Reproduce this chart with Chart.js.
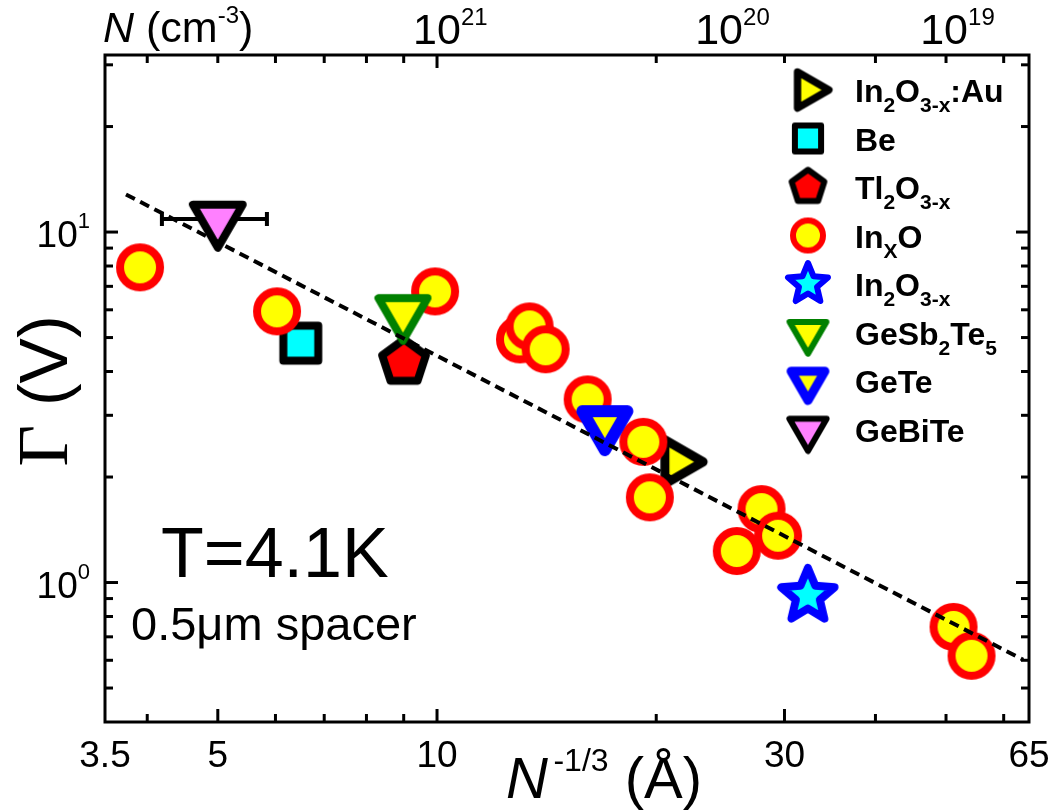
<!DOCTYPE html>
<html>
<head>
<meta charset="utf-8">
<script src="https://cdn.jsdelivr.net/npm/chart.js@4.4.1/dist/chart.umd.min.js"></script>
<style>
  html, body { margin: 0; padding: 0; background: #fff; }
  #wrap { width: 1051px; height: 812px; }
</style>
</head>
<body>
<div id="wrap"><canvas id="gammaChart" width="1051" height="812"></canvas></div>
<script>
// N^-1/3 (Å) against Γ (V) for every sample family
const inxoX = [3.91, 6.03, 9.94, 13.0, 13.4, 14.1, 16.1, 19.2, 19.6, 25.8, 27.9, 29.4, 51.2, 54.2];
const inxoY = [7.93, 5.94, 6.77, 4.94, 5.38, 4.63, 3.33, 2.52, 1.75, 1.23, 1.62, 1.36, 0.747, 0.618];
const auX = [21.4];
const auY = [2.21];
const beX = [6.50];
const beY = [4.82];
const tlX = [9.01];
const tlY = [4.25];
const in2o3X = [32.3];
const in2o3Y = [0.916];
const gstX = [8.98];
const gstY = [5.90];
const geteX = [17.0];
const geteY = [2.83];
const gebiteX = [5.0];
const gebiteY = [10.9];
const gebiteXLow = [4.19];
const gebiteXHigh = [5.84];

// dashed power-law guide
const fitX = [3.74, 63.8];
const fitY = [12.8, 0.602];

// axes
const xTickLabels = [3.5, 5, 10, 30, 65];
const xMajor = [5, 10, 30];
const xMinor = [4, 6, 7, 8, 9, 20, 40, 50, 60];
const topMajor = [10];
const yMajor = [1, 10];
const yMinor = [0.5, 0.6, 0.7, 0.8, 0.9, 2, 3, 4, 5, 6, 7, 8, 9, 20, 30];
const yExponents = [0, 1];
const topExponents = [21, 20, 19];
const topLabelAt = [10, 24.4, 49.7];

const SANS = '"Liberation Sans", Arial, sans-serif';
const SERIF = '"Liberation Serif", "Times New Roman", serif';

const pts = (xs, ys) => xs.map((x, i) => ({ x: x, y: ys[i] }));

// build a marker sprite on its own canvas
function marker(shape, R, fill, stroke, lw, k) {
  k = k || 1;
  R *= k; lw *= k;
  const size = Math.ceil(2 * R + 2 * lw + 4);
  const c = document.createElement('canvas');
  c.width = c.height = size;
  const g = c.getContext('2d');
  g.translate(size / 2, size / 2);
  g.beginPath();
  if (shape === 'circle') {
    g.arc(0, 0, R, 0, Math.PI * 2);
  } else {
    let n, a0, rad;
    if (shape === 'down') { n = 3; a0 = Math.PI / 2; }
    if (shape === 'right') { n = 3; a0 = 0; }
    if (shape === 'square') { n = 4; a0 = Math.PI / 4; }
    if (shape === 'pentagon') { n = 5; a0 = -Math.PI / 2; }
    if (shape === 'star') { n = 10; a0 = -Math.PI / 2; }
    for (let i = 0; i < n; i++) {
      rad = (shape === 'star' && i % 2) ? R * 0.45 : R;
      const a = a0 + i * Math.PI * 2 / n;
      const px = rad * Math.cos(a), py = rad * Math.sin(a);
      if (i === 0) g.moveTo(px, py); else g.lineTo(px, py);
    }
    g.closePath();
  }
  g.fillStyle = fill;
  g.fill();
  g.lineJoin = 'round';
  g.lineWidth = lw;
  g.strokeStyle = stroke;
  g.stroke();
  return c;
}

const styles = {
  au:     ['right', 25.5, '#ffff00', '#000000', 9],
  be:     ['square', 24.7, '#00ffff', '#000000', 8],
  tl:     ['pentagon', 23, '#ff0000', '#000000', 8],
  inxo:   ['circle', 20, '#ffff00', '#ff0000', 8],
  in2o3:  ['star', 28, '#00ffff', '#0000ff', 8],
  gst:    ['down', 28.3, '#ffff00', '#008000', 8],
  gete:   ['down', 26, '#ffff00', '#0000ff', 12],
  gebite: ['down', 28.7, '#ff80ff', '#000000', 8]
};
const big = {}, small = {};
Object.keys(styles).forEach(k => {
  const s = styles[k];
  big[k] = marker(s[0], s[1], s[2], s[3], s[4], 1);
  small[k] = marker(s[0], s[1], s[2], s[3], s[4], k === 'au' ? 0.82 : 0.75);
});

function series(key, xs, ys) {
  return { data: pts(xs, ys), pointStyle: big[key], pointRadius: 20, showLine: false };
}

// draw text made of several runs (sub/superscripts)
function rich(ctx, parts, x, y, align) {
  let w = 0;
  parts.forEach(p => { ctx.font = p[1]; w += ctx.measureText(p[0]).width; });
  let cx = align === 'center' ? x - w / 2 : (align === 'right' ? x - w : x);
  parts.forEach(p => {
    ctx.font = p[1];
    ctx.fillText(p[0], cx, y + (p[2] || 0));
    cx += ctx.measureText(p[0]).width;
  });
  return w;
}

const B = 'bold 32px ' + SANS;
const S = 'bold 21px ' + SANS;
const legendRows = [
  ['au', [['In', B], ['2', S, 10], ['O', B], ['3-x', S, 10], [':Au', B]]],
  ['be', [['Be', B]]],
  ['tl', [['Tl', B], ['2', S, 10], ['O', B], ['3-x', S, 10]]],
  ['inxo', [['In', B], ['X', S, 10], ['O', B]]],
  ['in2o3', [['In', B], ['2', S, 10], ['O', B], ['3-x', S, 10]]],
  ['gst', [['GeSb', B], ['2', S, 10], ['Te', B], ['5', S, 10]]],
  ['gete', [['GeTe', B]]],
  ['gebite', [['GeBiTe', B]]]
];

const errorBars = {
  id: 'errorBars',
  beforeDatasetsDraw(chart) {
    const { ctx, scales: { x, y } } = chart;
    ctx.save();
    ctx.strokeStyle = '#000';
    ctx.lineWidth = 4;
    gebiteX.forEach((v, i) => {
      const py = y.getPixelForValue(gebiteY[i]);
      const x0 = x.getPixelForValue(gebiteXLow[i]);
      const x1 = x.getPixelForValue(gebiteXHigh[i]);
      ctx.beginPath();
      ctx.moveTo(x0, py); ctx.lineTo(x1, py);
      ctx.moveTo(x0, py - 7); ctx.lineTo(x0, py + 7);
      ctx.moveTo(x1, py - 7); ctx.lineTo(x1, py + 7);
      ctx.stroke();
    });
    ctx.restore();
  }
};

const frameAndText = {
  id: 'frameAndText',
  afterDatasetsDraw(chart) {
    const { ctx, chartArea: a, scales: { x, y } } = chart;
    ctx.save();
    ctx.strokeStyle = '#000';
    ctx.fillStyle = '#000';
    ctx.lineWidth = 3;
    ctx.lineCap = 'butt';
    ctx.strokeRect(a.left, a.top, a.right - a.left, a.bottom - a.top);

    const tick = (x0, y0, x1, y1) => { ctx.beginPath(); ctx.moveTo(x0, y0); ctx.lineTo(x1, y1); ctx.stroke(); };
    // bottom + top ticks (inward)
    xMajor.concat(xMinor).forEach(v => {
      const px = x.getPixelForValue(v);
      tick(px, a.bottom, px, a.bottom - (xMajor.includes(v) ? 13 : 8));
      tick(px, a.top, px, a.top + (topMajor.includes(v) ? 13 : 8));
    });
    // left + right ticks
    yMajor.concat(yMinor).forEach(v => {
      const py = y.getPixelForValue(v);
      const len = yMajor.includes(v) ? 13 : 8;
      tick(a.left, py, a.left + len, py);
      tick(a.right, py, a.right - len, py);
    });

    ctx.textBaseline = 'alphabetic';
    ctx.textAlign = 'left';
    // bottom tick labels
    xTickLabels.forEach(v => {
      rich(ctx, [[String(v), '37px ' + SANS]], x.getPixelForValue(v), a.bottom + 45, 'center');
    });
    // left tick labels 10^n
    yExponents.forEach(e => {
      const py = y.getPixelForValue(Math.pow(10, e));
      rich(ctx, [['10', '37px ' + SANS], [String(e), '22px ' + SANS, -19]], 90, py + 15, 'right');
    });
    // top axis: carrier density
    topExponents.forEach((e, i) => {
      const px = x.getPixelForValue(topLabelAt[i]);
      ctx.font = '43px ' + SANS;
      const w10 = ctx.measureText('10').width;
      rich(ctx, [['10', '43px ' + SANS], [String(e), '24px ' + SANS, -19]], px - w10 / 2, 44, 'left');
    });
    rich(ctx, [['N', 'italic 43px ' + SANS], [' (cm', '43px ' + SANS], ['-3', '24px ' + SANS, -19], [')', '43px ' + SANS]], 103, 42, 'left');

    // bottom axis title
    rich(ctx, [['N', 'italic 58px ' + SANS], [' ', '20px ' + SANS], ['-1/3', '32px ' + SANS, -27], [' (Å)', '58px ' + SANS]], 506, 798, 'left');

    // left axis title
    ctx.save();
    ctx.translate(67, 391);
    ctx.rotate(-Math.PI / 2);
    rich(ctx, [['Γ', '72px ' + SERIF], [' (V)', '68px ' + SANS]], 0, 0, 'center');
    ctx.restore();

    // conditions
    rich(ctx, [['T=4.1K', '70px ' + SANS]], 161, 577, 'left');
    rich(ctx, [['0.5μm spacer', '47px ' + SANS]], 131, 640, 'left');

    // legend
    legendRows.forEach((row, i) => {
      const cy = 90 + i * 48.5;
      const img = small[row[0]];
      ctx.drawImage(img, 808 - img.width / 2, cy - img.height / 2);
      rich(ctx, row[1], 855, cy + 12, 'left');
    });
    ctx.restore();
  }
};

const gammaChart = document.getElementById('gammaChart');

new Chart(gammaChart, {
  type: 'scatter',

  data: {
    datasets: [
      {
        data: pts(fitX, fitY),
        showLine: true,
        borderColor: '#000',
        borderWidth: 4,
        borderDash: [10, 6],
        pointRadius: 0,
        fill: false
      },
      series('gebite', gebiteX, gebiteY),
      series('gete', geteX, geteY),
      series('gst', gstX, gstY),
      series('in2o3', in2o3X, in2o3Y),
      series('inxo', inxoX, inxoY),
      series('tl', tlX, tlY),
      series('be', beX, beY),
      series('au', auX, auY)
    ]
  },

  options: {
    responsive: false,
    animation: false,
    layout: {
      padding: { left: 105, right: 22, top: 55, bottom: 90 }
    },
    scales: {
      x: { type: 'logarithmic', min: 3.5, max: 65, display: false },
      y: { type: 'logarithmic', min: 0.4, max: 32, display: false }
    },
    plugins: {
      legend: { display: false },
      tooltip: { enabled: false }
    }
  },

  plugins: [errorBars, frameAndText]
});
</script>
</body>
</html>
